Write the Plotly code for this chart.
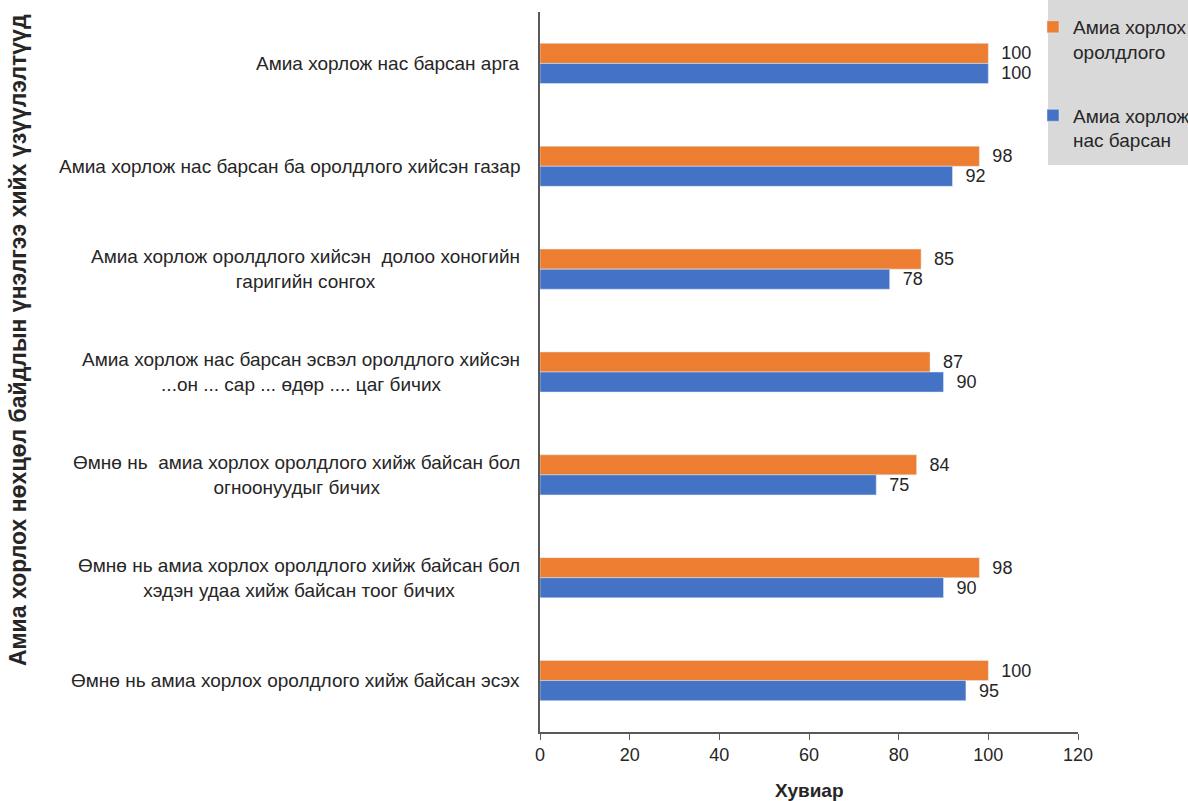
import plotly.graph_objects as go

categories = [
    "Амиа хорлож нас барсан арга",
    "Амиа хорлож нас барсан ба оролдлого хийсэн газар",
    "Амиа хорлож оролдлого хийсэн  долоо хоногийн<br>гаригийн сонгох",
    "Амиа хорлож нас барсан эсвэл оролдлого хийсэн<br>...он ... сар ... өдөр .... цаг бичих",
    "Өмнө нь  амиа хорлох оролдлого хийж байсан бол<br>огноонуудыг бичих",
    "Өмнө нь амиа хорлох оролдлого хийж байсан бол<br>хэдэн удаа хийж байсан тоог бичих",
    "Өмнө нь амиа хорлох оролдлого хийж байсан эсэх",
]
attempt_values = [100, 98, 85, 87, 84, 98, 100]
death_values = [100, 92, 78, 90, 75, 90, 95]
series_names = ["Амиа хорлох<br>оролдлого", "Амиа хорлож<br>нас барсан"]
x_ticks = [0, 20, 40, 60, 80, 100, 120]

FONT = "Liberation Sans, Arial, sans-serif"
TXT = "#262626"

fig = go.Figure()
fig.add_trace(go.Bar(
    y=categories, x=attempt_values, orientation="h", name=series_names[0],
    marker_color="#ED7D31", legendgroup="a",
    text=attempt_values, texttemplate="\u00a0\u00a0%{x}", textposition="outside",
    constraintext="none", cliponaxis=False,
    textfont=dict(family=FONT, size=18, color=TXT),
))
fig.add_trace(go.Bar(
    y=categories, x=death_values, orientation="h", name=series_names[1],
    marker_color="#4472C4", legendgroup="b",
    text=death_values, texttemplate="\u00a0\u00a0%{x}", textposition="outside",
    constraintext="none", cliponaxis=False,
    textfont=dict(family=FONT, size=18, color=TXT),
))

for c in categories:
    fig.add_annotation(
        x=-0.0335, xref="paper", y=c, yref="y", text=c, showarrow=False,
        xanchor="right", yanchor="middle", align="center",
        font=dict(family=FONT, size=19, color=TXT),
    )

fig.add_annotation(
    x=(18 - 540) / 538, xref="paper", y=(732 - 340) / 720, yref="paper",
    text="<b>Амиа хорлох нөхцөл байдлын үнэлгээ хийх үзүүлэлтүүд</b>",
    textangle=-90, showarrow=False, xanchor="center", yanchor="middle",
    font=dict(family=FONT, size=23, color=TXT),
)
fig.add_annotation(
    x=0.5, xref="paper", y=(732 - 790) / 720, yref="paper",
    text="<b>Хувиар</b>", showarrow=False, xanchor="center", yanchor="middle",
    font=dict(family=FONT, size=19, color=TXT),
)

# legend background box
fig.add_shape(
    type="rect", xref="paper", yref="paper",
    x0=(1048 - 540) / 538, x1=(1200 - 540) / 538,
    y0=(732 - 165) / 720, y1=(732 + 2) / 720,
    fillcolor="#D9D9D9", line_width=0, layer="above",
)

fig.update_layout(
    width=1188, height=801,
    margin=dict(l=540, r=110, t=12, b=69, autoexpand=False),
    paper_bgcolor="white", plot_bgcolor="white",
    barmode="group", bargap=0.61, bargroupgap=0,
    font=dict(family=FONT, size=18, color=TXT),
    showlegend=True,
    legend=dict(
        x=(1033 - 540) / 538, xref="paper", y=(732 - 8) / 720, yref="paper",
        xanchor="left", yanchor="top", bgcolor="rgba(0,0,0,0)",
        font=dict(family=FONT, size=19, color=TXT),
        tracegroupgap=36, valign="top", traceorder="grouped",
    ),
)
fig.update_xaxes(
    range=[0, 120], tickvals=x_ticks, ticktext=[str(v) for v in x_ticks],
    showgrid=False, zeroline=False, showline=True, linecolor="#595959", linewidth=1.5,
    ticks="outside", ticklen=6, tickcolor="#595959",
    tickfont=dict(family=FONT, size=18, color=TXT),
)
fig.update_yaxes(
    autorange="reversed", showgrid=False, zeroline=False,
    showline=True, linecolor="#595959", linewidth=1.5,
    showticklabels=False, ticks="",
)

fig.write_html("out.html")
